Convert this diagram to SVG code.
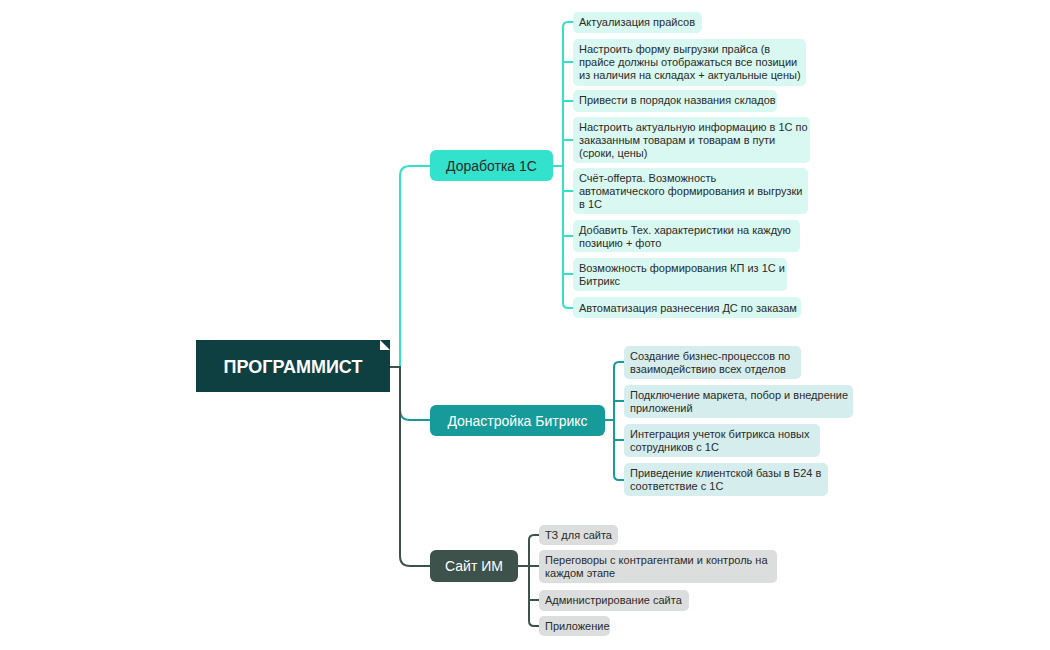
<svg xmlns="http://www.w3.org/2000/svg" width="1050" height="650" viewBox="0 0 1050 650">
<style>
text{font-family:"Liberation Sans",Arial,sans-serif;font-size:11px;fill:#2b2b2b}
.c{fill:none;stroke-width:2}
.t1{stroke:#35e0c8}.t2{stroke:#169a9a}.t3{stroke:#3e524c}
.s1{fill:#d8f8f1}.s2{fill:#d5eded}.s3{fill:#dcdedd}
.b{font-size:14px}
</style>
<rect width="1050" height="650" fill="#fff"/>
<g id="connectors">
<path class="c t1" d="M400,367 V176 Q400,166 410,166 H430"/>
<path class="c t2" d="M400,367 V410 Q400,420 410,420 H430"/>
<path class="c t3" d="M390,367 H400 V556 Q400,566 410,566 H430"/>
<path class="c t1" d="M553,166 H563 M573,22 H568 Q563,22 563,27 V303 Q563,308 568,308 H573 M563,62 H573 M563,101 H573 M563,140 H573 M563,191 H573 M563,236 H573 M563,274 H573"/>
<path class="c t2" d="M605,420 H614 M624,362 H619 Q614,362 614,367 V475 Q614,480 619,480 H624 M614,401 H624 M614,440 H624"/>
<path class="c t3" d="M518,566 H529 M539,535 H534 Q529,535 529,540 V621 Q529,626 534,626 H539 M529,566 H539 M529,600 H539"/>
</g>
<g id="root">
<rect x="196" y="340" width="194" height="52" fill="#0e4042"/>
<path d="M380,340 L390,350 L380,350 Z" fill="#fff"/>
<text x="293" y="373" text-anchor="middle" style="font-size:18px;font-weight:bold;fill:#fff">ПРОГРАММИСТ</text>
</g>
<g id="b1"><rect x="430" y="150" width="123" height="31" rx="6" fill="#33e2cc"/><text class="b" x="491.5" y="171" text-anchor="middle">Доработка 1С</text></g>
<g id="b2"><rect x="430" y="405" width="175" height="31" rx="6" fill="#169a9a"/><text class="b" x="517.5" y="426" text-anchor="middle" style="fill:#fff">Донастройка Битрикс</text></g>
<g id="b3"><rect x="430" y="550" width="88" height="32" rx="6" fill="#3e524c"/><text class="b" x="474" y="571" text-anchor="middle" style="fill:#fff">Сайт ИМ</text></g>
<g id="s1-1"><rect class="s1" x="573" y="12" width="129" height="21" rx="5"/><text x="579" y="26">Актуализация прайсов</text></g>
<g id="s1-2"><rect class="s1" x="573" y="39" width="233" height="47" rx="5"/><text x="579" y="53">Настроить форму выгрузки прайса (в</text><text x="579" y="66">прайсе должны отображаться все позиции</text><text x="579" y="79">из наличия на складах + актуальные цены)</text></g>
<g id="s1-3"><rect class="s1" x="573" y="90" width="204" height="22" rx="5"/><text x="579" y="104">Привести в порядок названия складов</text></g>
<g id="s1-4"><rect class="s1" x="573" y="117" width="237" height="46" rx="5"/><text x="579" y="131">Настроить актуальную информацию в 1С по</text><text x="579" y="144">заказанным товарам и товарам в пути</text><text x="579" y="157">(сроки, цены)</text></g>
<g id="s1-5"><rect class="s1" x="573" y="168" width="235" height="46" rx="5"/><text x="579" y="182">Счёт-offерта. Возможность</text><text x="579" y="195">автоматического формирования и выгрузки</text><text x="579" y="208">в 1С</text></g>
<g id="s1-6"><rect class="s1" x="573" y="220" width="227" height="32" rx="5"/><text x="579" y="234">Добавить Тех. характеристики на каждую</text><text x="579" y="247">позицию + фото</text></g>
<g id="s1-7"><rect class="s1" x="573" y="258" width="214" height="33" rx="5"/><text x="579" y="272">Возможность формирования КП из 1С и</text><text x="579" y="285">Битрикс</text></g>
<g id="s1-8"><rect class="s1" x="573" y="297" width="228" height="21" rx="5"/><text x="579" y="312">Автоматизация разнесения ДС по заказам</text></g>
<g id="s2-1"><rect class="s2" x="624" y="346" width="177" height="33" rx="5"/><text x="630" y="360">Создание бизнес-процессов по</text><text x="630" y="373">взаимодействию всех отделов</text></g>
<g id="s2-2"><rect class="s2" x="624" y="385" width="229" height="33" rx="5"/><text x="630" y="399">Подключение маркета, побор и внедрение</text><text x="630" y="412">приложений</text></g>
<g id="s2-3"><rect class="s2" x="624" y="424" width="196" height="33" rx="5"/><text x="630" y="438">Интеграция учеток битрикса новых</text><text x="630" y="451">сотрудников с 1С</text></g>
<g id="s2-4"><rect class="s2" x="624" y="463" width="204" height="33" rx="5"/><text x="630" y="477">Приведение клиентской базы в Б24 в</text><text x="630" y="490">соответствие с 1С</text></g>
<g id="s3-1"><rect class="s3" x="539" y="525" width="79" height="20" rx="5"/><text x="545" y="539">ТЗ для сайта</text></g>
<g id="s3-2"><rect class="s3" x="539" y="550" width="238" height="33" rx="5"/><text x="545" y="564">Переговоры с контрагентами и контроль на</text><text x="545" y="577">каждом этапе</text></g>
<g id="s3-3"><rect class="s3" x="539" y="590" width="150" height="21" rx="5"/><text x="545" y="604">Администрирование сайта</text></g>
<g id="s3-4"><rect class="s3" x="539" y="616" width="71" height="20" rx="5"/><text x="545" y="630">Приложение</text></g>
</svg>
